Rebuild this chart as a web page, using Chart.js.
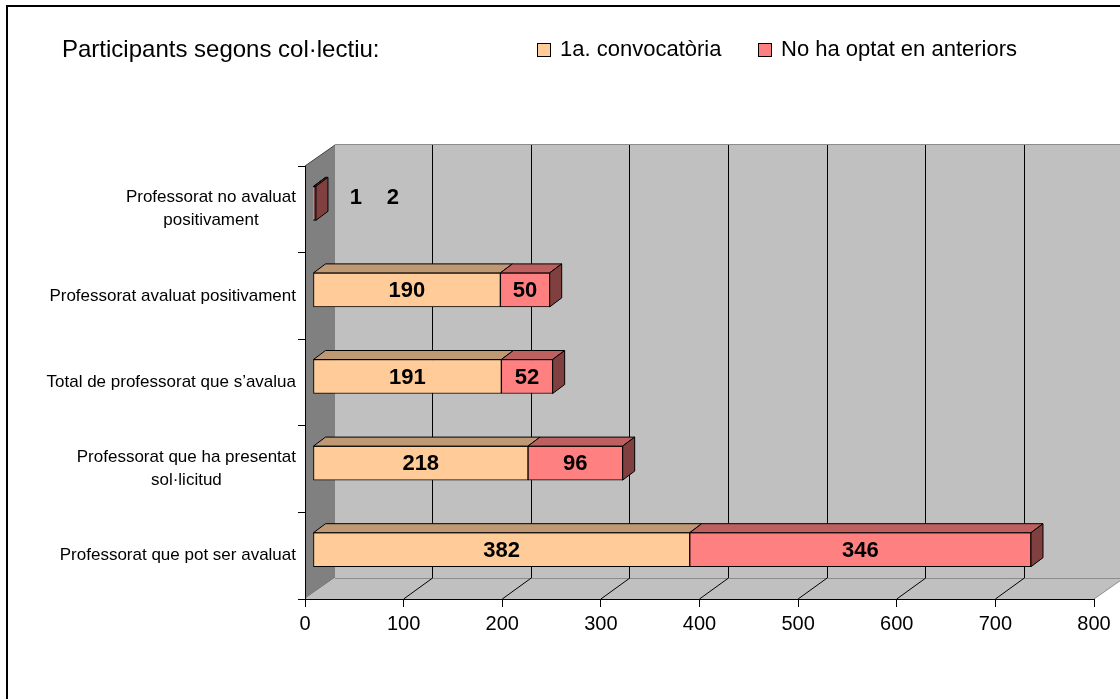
<!DOCTYPE html>
<html><head><meta charset="utf-8">
<script src="https://cdn.jsdelivr.net/npm/chart.js@4/dist/chart.umd.min.js"></script>
<style>html,body{margin:0;padding:0;background:#fff;}#wrap{width:1120px;height:699px;}</style>
</head><body><div id="wrap"><canvas id="c" width="1120" height="699"></canvas></div>
<script>
// ---- data ----
const categoryLabels = [
  ['Professorat no avaluat', 'positivament'],
  ['Professorat avaluat positivament'],
  ['Total de professorat que s\u2019avalua'],
  ['Professorat que ha presentat', 'sol\u00b7licitud'],
  ['Professorat que pot ser avaluat']
];
const seriesNames = ['1a. convocat\u00f2ria', 'No ha optat en anteriors'];
const primeraConvocatoria = [1, 190, 191, 218, 382];
const noHaOptatAnteriors = [2, 50, 52, 96, 346];
const xTickValues = [0, 100, 200, 300, 400, 500, 600, 700, 800];
const chartTitle = 'Participants segons col\u00b7lectiu:';

// ---- style ----
const FONT = "'Liberation Sans', Arial, Helvetica, sans-serif";
const FRONT = ['#FFCC99', '#FF8080'];
const TOP = ['#BF9973', '#BF6060'];
const SIDE = ['#806650', '#804040'];
const WALL = {dx: 30, dy: -21};
const BAR_OFF = {dx: 8, dy: -6};
const BAR_DEPTH = {dx: 12, dy: -9};

function poly(ctx, pts, fill, stroke, lw) {
  ctx.beginPath();
  ctx.moveTo(pts[0][0], pts[0][1]);
  for (let i = 1; i < pts.length; i++) ctx.lineTo(pts[i][0], pts[i][1]);
  ctx.closePath();
  if (fill) { ctx.fillStyle = fill; ctx.fill(); }
  if (stroke) { ctx.strokeStyle = stroke; ctx.lineWidth = lw || 1; ctx.stroke(); }
}

const threeD = {
  id: 'threeD',
  beforeDraw(chart) {
    const ctx = chart.ctx;
    const xs = chart.scales.x, ys = chart.scales.y;
    const L = xs.left, R = xs.right, T = ys.top, B = ys.bottom;
    ctx.save();
    // outer frame
    ctx.strokeStyle = '#000'; ctx.lineWidth = 2;
    ctx.beginPath(); ctx.moveTo(7, 700); ctx.lineTo(7, 6); ctx.lineTo(1121, 6); ctx.stroke();
    // title
    ctx.fillStyle = '#000';
    ctx.font = '24px ' + FONT;
    ctx.textAlign = 'left'; ctx.textBaseline = 'middle';
    ctx.fillText(chartTitle, 62, 50);
    // legend from datasets
    ctx.font = '22px ' + FONT;
    const legX = [537, 758];
    chart.data.datasets.forEach((ds, i) => {
      ctx.fillStyle = ds.backgroundColor;
      ctx.fillRect(legX[i] + 0.5, 43.5, 13, 13);
      ctx.strokeStyle = '#000'; ctx.lineWidth = 1;
      ctx.strokeRect(legX[i] + 0.5, 43.5, 13, 13);
      ctx.fillStyle = '#000';
      ctx.fillText(ds.label, legX[i] + 23, 50);
    });
    // walls
    const bx = v => xs.getPixelForValue(v) + WALL.dx;
    poly(ctx, [[L, T], [L + WALL.dx, T + WALL.dy], [L + WALL.dx, B + WALL.dy], [L, B]], '#808080');
    poly(ctx, [[L + WALL.dx, T + WALL.dy], [R + WALL.dx, T + WALL.dy], [R + WALL.dx, B + WALL.dy], [L + WALL.dx, B + WALL.dy]], '#C0C0C0');
    poly(ctx, [[L, B], [R, B], [R + WALL.dx, B + WALL.dy], [L + WALL.dx, B + WALL.dy]], '#C0C0C0');
    ctx.lineWidth = 1;
    ctx.strokeStyle = '#8C8C8C';
    ctx.beginPath();
    ctx.moveTo(L + WALL.dx, T + WALL.dy - 0.5); ctx.lineTo(R + WALL.dx, T + WALL.dy - 0.5);
    ctx.moveTo(L + WALL.dx, B + WALL.dy + 0.5); ctx.lineTo(R + WALL.dx, B + WALL.dy + 0.5);
    ctx.moveTo(R, B); ctx.lineTo(R + WALL.dx, B + WALL.dy);
    ctx.stroke();
    ctx.strokeStyle = '#404040';
    ctx.beginPath(); ctx.moveTo(L, T); ctx.lineTo(L + WALL.dx, T + WALL.dy); ctx.stroke();
    // gridlines on back wall + floor
    ctx.strokeStyle = '#000';
    ctx.beginPath();
    xTickValues.forEach(v => {
      if (v === 0 || v === 800) return;
      const x = Math.floor(bx(v)) - 0.5;
      ctx.moveTo(x, T + WALL.dy); ctx.lineTo(x, B + WALL.dy);
      const fx = xs.getPixelForValue(v);
      ctx.moveTo(fx, B); ctx.lineTo(fx + WALL.dx - 1, B + WALL.dy);
    });
    ctx.stroke();
    // category labels (block right-aligned, lines centered)
    ctx.font = '17px ' + FONT;
    ctx.fillStyle = '#000';
    ctx.textAlign = 'center'; ctx.textBaseline = 'middle';
    categoryLabels.forEach((lines, i) => {
      const cy = ys.getPixelForValue(i);
      const w = Math.max(...lines.map(s => ctx.measureText(s).width));
      const cx = 296 - w / 2;
      lines.forEach((s, j) => {
        ctx.fillText(s, cx, cy + (j - (lines.length - 1) / 2) * 23);
      });
    });
    ctx.restore();
  },
  beforeDatasetsDraw(chart) {
    chart.ctx.save();
    chart.ctx.translate(BAR_OFF.dx, BAR_OFF.dy);
  },
  afterDatasetsDraw(chart) {
    const ctx = chart.ctx;
    const metas = chart.data.datasets.map((d, i) => chart.getDatasetMeta(i));
    const n = chart.data.labels.length;
    ctx.lineWidth = 1; ctx.lineJoin = 'miter';
    for (let k = 0; k < n; k++) {
      let last = null, lastIdx = -1;
      metas.forEach((m, di) => {
        const el = m.data[k];
        const p = el.getProps(['x', 'y', 'base', 'height'], true);
        const x0 = Math.min(p.x, p.base), x1 = Math.max(p.x, p.base);
        const top = p.y - p.height / 2;
        poly(ctx, [[x0, top], [x1, top], [x1 + BAR_DEPTH.dx, top + BAR_DEPTH.dy], [x0 + BAR_DEPTH.dx, top + BAR_DEPTH.dy]], TOP[di], '#000', 1);
        last = p; lastIdx = di;
      });
      if (last) {
        const x1 = Math.max(last.x, last.base);
        const top = last.y - last.height / 2, bot = last.y + last.height / 2;
        poly(ctx, [[x1, top], [x1 + BAR_DEPTH.dx, top + BAR_DEPTH.dy], [x1 + BAR_DEPTH.dx, bot + BAR_DEPTH.dy], [x1, bot]], SIDE[lastIdx], '#000', 1);
      }
      // value labels
      ctx.font = 'bold 22px ' + FONT;
      ctx.fillStyle = '#000';
      ctx.textAlign = 'center'; ctx.textBaseline = 'middle';
      let stackEnd = 0;
      metas.forEach(m => { const p = m.data[k].getProps(['x'], true); stackEnd = Math.max(stackEnd, p.x); });
      metas.forEach((m, di) => {
        const p = m.data[k].getProps(['x', 'y', 'base'], true);
        const val = chart.data.datasets[di].data[k];
        const w = Math.abs(p.x - p.base);
        if (w > 30) {
          ctx.fillText(String(val), (p.x + p.base) / 2, p.y + 1);
        } else {
          ctx.fillText(String(val), stackEnd + 40 + di * 37, p.y - 5);
        }
      });
    }
    ctx.restore();
  }
};

const chart = new Chart(document.getElementById('c'), {
  type: 'bar',
  data: {
    labels: categoryLabels.map(l => l.join(' ')),
    datasets: [
      {label: seriesNames[0], data: primeraConvocatoria, backgroundColor: FRONT[0], borderColor: '#000', borderWidth: 1, borderSkipped: false, barThickness: 34, clip: false},
      {label: seriesNames[1], data: noHaOptatAnteriors, backgroundColor: FRONT[1], borderColor: '#000', borderWidth: 1, borderSkipped: false, barThickness: 34, clip: false}
    ]
  },
  options: {
    indexAxis: 'y',
    responsive: false,
    animation: false,
    devicePixelRatio: 1,
    layout: {padding: {top: 166, left: 0, right: 26, bottom: 40}},
    plugins: {legend: {display: false}, title: {display: false}, tooltip: {enabled: false}},
    scales: {
      x: {
        type: 'linear', min: 0, max: 800, stacked: true,
        afterBuildTicks: s => { s.ticks = xTickValues.map(v => ({value: v})); },
        ticks: {font: {family: FONT, size: 20}, color: '#000', padding: 5, maxRotation: 0},
        grid: {drawOnChartArea: false, drawTicks: true, tickLength: 8, color: '#000'},
        border: {display: true, color: '#000', width: 1},
        afterFit: s => { s.height = 60; }
      },
      y: {
        type: 'category', stacked: true,
        ticks: {display: false},
        grid: {drawOnChartArea: false, drawTicks: true, tickLength: 7, color: '#000', offset: true},
        border: {display: true, color: '#000', width: 1},
        afterFit: s => { s.width = 305; }
      }
    }
  },
  plugins: [threeD]
});
</script>
</body></html>
